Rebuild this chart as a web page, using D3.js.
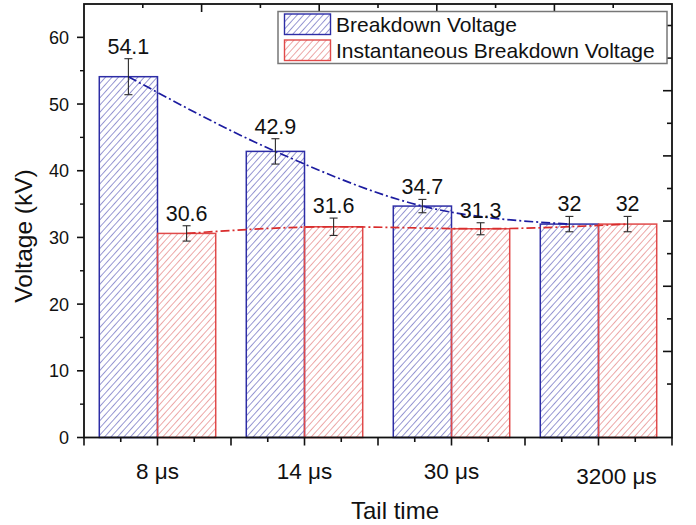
<!DOCTYPE html>
<html>
<head>
<meta charset="utf-8">
<script src="https://cdn.jsdelivr.net/npm/d3@7"></script>
<style>
  body { margin: 0; background: #fff; }
  svg { display: block; }
  text { font-family: "Liberation Sans", Arial, Helvetica, sans-serif; fill: #111; }
</style>
</head>
<body>
<svg id="chart" width="696" height="525"></svg>
<script>
// Tail-time categories and the two measured voltages (kV) with their error bars
const categories = ["8 μs", "14 μs", "30 μs", "3200 μs"];
const seriesNames = ["Breakdown Voltage", "Instantaneous Breakdown Voltage"];
const breakdown = [54.1, 42.9, 34.7, 32];
const instantaneous = [30.6, 31.6, 31.3, 32];
const breakdownErr = [2.7, 1.9, 1.0, 1.15];
const instantaneousErr = [1.15, 1.3, 0.9, 1.15];
const yTicks = [0, 10, 20, 30, 40, 50, 60];
const yMinorTicks = [5, 15, 25, 35, 45, 55];
const xTitle = "Tail time";
const yTitle = "Voltage (kV)";

const svg = d3.select("#chart");
const W = 696, H = 525;
const plot = { left: 84, right: 672, top: 4, bottom: 437.5 };

svg.append("rect").attr("width", W).attr("height", H).attr("fill", "#fff");

const x = d3.scaleBand().domain(categories)
  .range([plot.left, plot.right]).paddingInner(0.208).paddingOuter(0.104);
const sub = d3.scaleBand().domain([0, 1]).range([0, x.bandwidth()]);
const y = d3.scaleLinear().domain([0, 65]).range([plot.bottom, plot.top]);
// secondary (mirror) axes carry their own tick grids
const xTop = d3.scaleLinear().domain([0, 10]).range([plot.left, plot.right]);
const yRight = d3.scaleLinear().domain([-0.64, 12.66]).range([plot.bottom, plot.top]);

const colors = {
  blue: { edge: "#2d2da6", hatch: "#4b4bb2", line: "#1c1ca0" },
  red:  { edge: "#e04a4a", hatch: "#e06a6a", line: "#d92c2c" }
};

// diagonal hatch patterns
const defs = svg.append("defs");
function hatch(id, color) {
  const p = defs.append("pattern").attr("id", id)
    .attr("patternUnits", "userSpaceOnUse")
    .attr("width", 4.8).attr("height", 4.8)
    .attr("patternTransform", "rotate(42)");
  p.append("line").attr("x1", 0).attr("y1", 0).attr("x2", 0).attr("y2", 4.8)
    .attr("stroke", color).attr("stroke-width", 1.15);
}
hatch("hatch-blue", colors.blue.hatch);
hatch("hatch-red", colors.red.hatch);

const series = [
  { name: seriesNames[0], values: breakdown, err: breakdownErr, c: colors.blue, fill: "url(#hatch-blue)" },
  { name: seriesNames[1], values: instantaneous, err: instantaneousErr, c: colors.red, fill: "url(#hatch-red)" }
];

const cx = (si, i) => x(categories[i]) + sub(si) + sub.bandwidth() / 2;

// bars
series.forEach((s, si) => {
  svg.append("g").selectAll("rect").data(s.values).join("rect")
    .attr("x", (d, i) => x(categories[i]) + sub(si))
    .attr("y", d => y(d))
    .attr("width", sub.bandwidth())
    .attr("height", d => y(0) - y(d))
    .attr("fill", s.fill)
    .attr("stroke", s.c.edge).attr("stroke-width", 1.5);
});

// dash-dot trend curves through the bar tops
series.forEach((s, si) => {
  const line = d3.line()
    .x((d, i) => cx(si, i))
    .y(d => y(d))
    .curve(d3.curveMonotoneX);
  svg.append("path").datum(s.values)
    .attr("d", line)
    .attr("fill", "none")
    .attr("stroke", s.c.line)
    .attr("stroke-width", 1.7)
    .attr("stroke-dasharray", "9,3,2,3");
});

// error bars
series.forEach((s, si) => {
  const g = svg.append("g").attr("stroke", "#2a2a2a").attr("stroke-width", 1.1);
  s.values.forEach((v, i) => {
    const xc = cx(si, i), y1 = y(v + s.err[i]), y0 = y(v - s.err[i]);
    g.append("line").attr("x1", xc).attr("x2", xc).attr("y1", y1).attr("y2", y0);
    g.append("line").attr("x1", xc - 4).attr("x2", xc + 4).attr("y1", y1).attr("y2", y1);
    g.append("line").attr("x1", xc - 4).attr("x2", xc + 4).attr("y1", y0).attr("y2", y0);
  });
});

// value labels
series.forEach((s, si) => {
  svg.append("g").selectAll("text").data(s.values).join("text")
    .attr("x", (d, i) => cx(si, i))
    .attr("y", (d, i) => y(d + s.err[i]) - 5)
    .attr("text-anchor", "middle")
    .attr("font-size", 21.5)
    .text(d => d3.format("")(d));
});

// frame / axes
const axisG = svg.append("g").attr("stroke", "#111").attr("fill", "none");
axisG.append("rect")
  .attr("x", plot.left).attr("y", plot.top)
  .attr("width", plot.right - plot.left).attr("height", plot.bottom - plot.top)
  .attr("stroke-width", 1.8);

// left axis ticks + labels
yTicks.forEach(t => {
  axisG.append("line").attr("x1", plot.left - 7).attr("x2", plot.left)
    .attr("y1", y(t)).attr("y2", y(t)).attr("stroke-width", 1.6);
});
yMinorTicks.forEach(t => {
  axisG.append("line").attr("x1", plot.left - 4).attr("x2", plot.left)
    .attr("y1", y(t)).attr("y2", y(t)).attr("stroke-width", 1.4);
});
svg.append("g").selectAll("text").data(yTicks).join("text")
  .attr("x", 69).attr("y", d => y(d)).attr("dy", "0.36em")
  .attr("text-anchor", "end").attr("font-size", 18)
  .text(d => d);

// bottom axis ticks: category centres and boundaries long, quarters short
const step = x.step();
d3.range(0, 17).forEach(k => {
  const xx = plot.left + k * step / 4;
  const long = k % 2 === 0;
  axisG.append("line").attr("x1", xx).attr("x2", xx)
    .attr("y1", plot.bottom).attr("y2", plot.bottom + (long ? 8 : 4.5))
    .attr("stroke-width", 1.6);
});
svg.append("g").selectAll("text").data(categories).join("text")
  .attr("x", (d, i) => x(d) + x.bandwidth() / 2 + (i === categories.length - 1 ? 18 : 0))
  .attr("y", (d, i) => 479 + (i === categories.length - 1 ? 5 : 0))
  .attr("text-anchor", "middle").attr("font-size", 22.5)
  .text(d => d);

// top axis ticks (inward)
d3.range(1, 10).forEach(v => {
  axisG.append("line").attr("x1", xTop(v)).attr("x2", xTop(v))
    .attr("y1", plot.top).attr("y2", plot.top + (v % 2 === 0 ? 8 : 4))
    .attr("stroke-width", 1.6);
});
// right axis ticks (inward)
d3.range(1, 13).forEach(v => {
  axisG.append("line").attr("x1", plot.right).attr("x2", plot.right - (v % 2 === 0 ? 9 : 5))
    .attr("y1", yRight(v)).attr("y2", yRight(v))
    .attr("stroke-width", 1.6);
});

// axis titles
svg.append("text").attr("x", 395).attr("y", 519)
  .attr("text-anchor", "middle").attr("font-size", 24).text(xTitle);
svg.append("text")
  .attr("transform", "translate(32,236) rotate(-90)")
  .attr("text-anchor", "middle").attr("font-size", 24.5).text(yTitle);

// legend
const lg = svg.append("g");
lg.append("rect").attr("x", 278).attr("y", 11.5).attr("width", 389).attr("height", 52)
  .attr("fill", "#fff").attr("stroke", "#777").attr("stroke-width", 1.5);
series.forEach((s, si) => {
  const top = 14 + si * 26;
  lg.append("rect").attr("x", 284.5).attr("y", top).attr("width", 46).attr("height", 20.5)
    .attr("fill", s.fill).attr("stroke", s.c.edge).attr("stroke-width", 1.4);
  lg.append("text").attr("x", 336).attr("y", top + 17.5)
    .attr("font-size", 21).text(s.name);
});
</script>
</body>
</html>
